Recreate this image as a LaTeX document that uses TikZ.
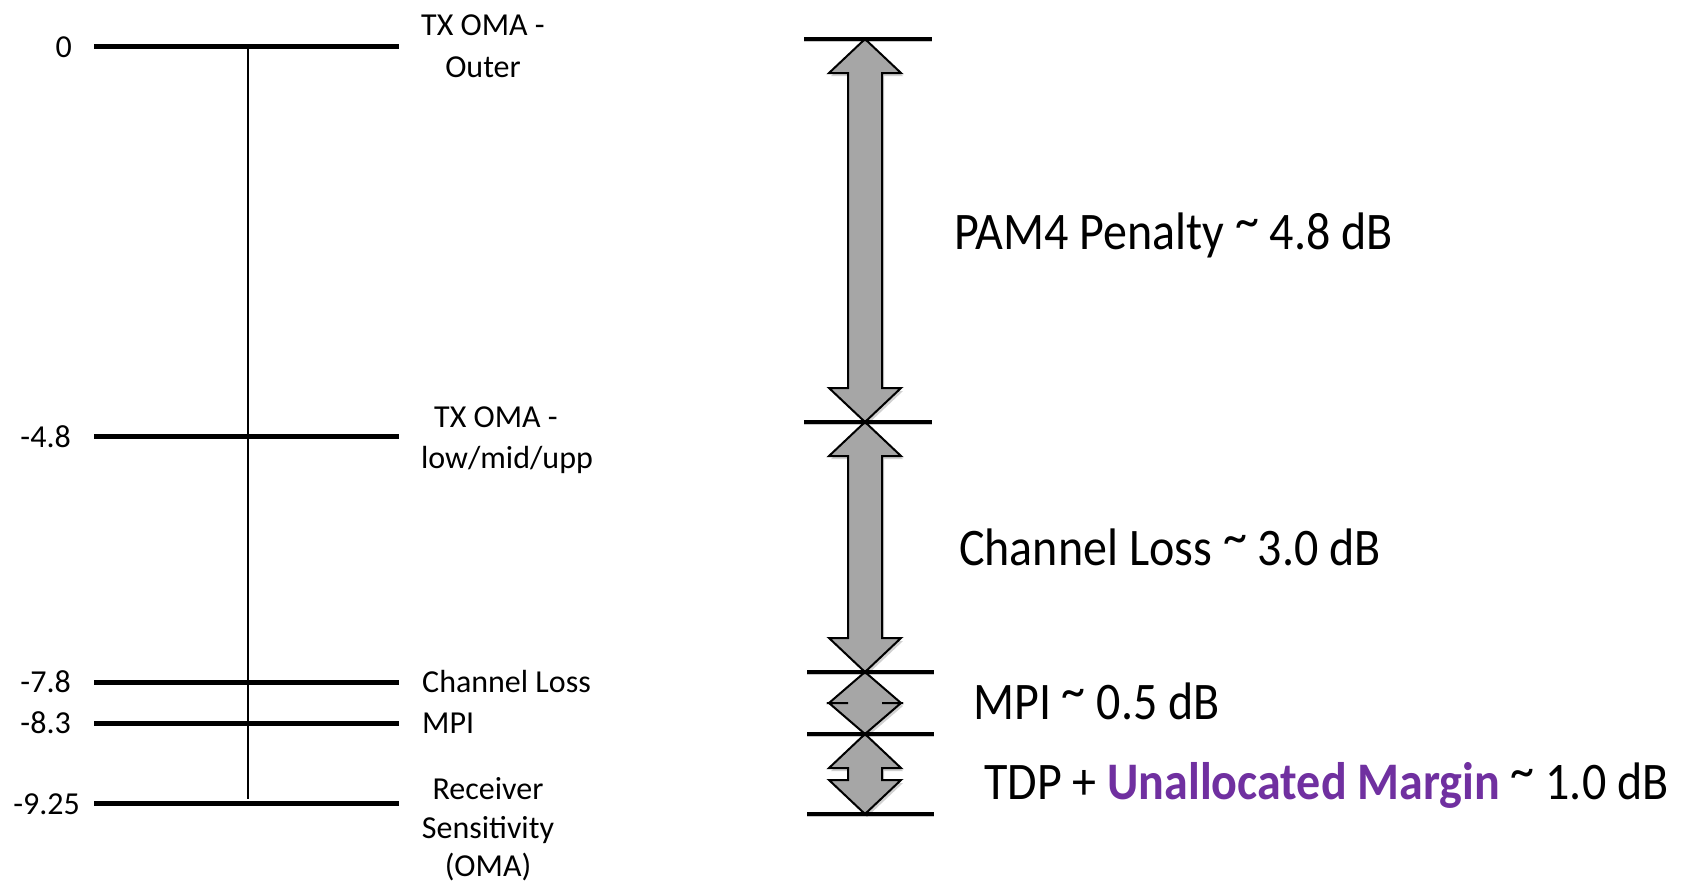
\documentclass[tikz,border=0pt]{standalone}
\usepackage{fontspec}
\setmainfont{Carlito}
\usepackage{graphicx}
\definecolor{arrowgray}{RGB}{166,166,166}
\definecolor{mpurple}{RGB}{112,48,160}
\tikzset{
  level/.style={line width=5pt, black},
  thinline/.style={line width=1.8pt, black},
  bar/.style={line width=4.5pt, black},
  barshadow/.style={line width=5pt, black, opacity=0.22},
  arrowshape/.style={fill=arrowgray, draw=black, line width=2pt, line join=miter},
  arrowshadow/.style={fill=black, opacity=0.18},
  small/.style={font=\fontsize{32}{40}\selectfont, inner sep=0pt},
  big/.style={font=\fontsize{48}{58}\selectfont, inner sep=0pt},
}
\newcommand{\bigtxt}[1]{\scalebox{1}[1.1]{#1}}
\newcommand{\tld}{\raisebox{0.2em}{\textasciitilde}}
\newcommand{\myUpDownArrow}[4]{% name, top, bottom, head
  \pgfmathsetmacro{\ta}{-(#2)}%
  \pgfmathsetmacro{\tb}{-(#2+#4)}%
  \pgfmathsetmacro{\ba}{-(#3)}%
  \pgfmathsetmacro{\bb}{-(#3-#4)}%
  \fill[arrowshadow, shift={(2,-3)}] (865,\ta) -- (901,\tb) -- (882,\tb) -- (882,\bb) -- (901,\bb) -- (865,\ba) -- (829,\bb) -- (848,\bb) -- (848,\tb) -- (829,\tb) -- cycle;
  \draw[arrowshape] (865,\ta) coordinate (#1top) -- (901,\tb) -- (882,\tb) -- (882,\bb) -- (901,\bb) -- (865,\ba) coordinate (#1bot) -- (829,\bb) -- (848,\bb) -- (848,\tb) -- (829,\tb) -- cycle;
}
\begin{document}
\begin{tikzpicture}[x=1pt,y=1pt]
\useasboundingbox (0,0) rectangle (1681,-887);
\fill[white] (0,0) rectangle (1681,-887);

% ---------- left scale ----------
\foreach \n/\y in {a/46, b/436, c/682, d/723, e/803} {
  \coordinate (L\n) at (94,-\y);
  \coordinate (R\n) at (399,-\y);
  \draw[level] (L\n) -- (R\n);
}
\coordinate (vt) at (248,-46);
\coordinate (vb) at (248,-799);
\draw[thinline] (vt) -- (vb);

\node[small, anchor=base east] (n0) at (72,-57) {0};
\node[small, anchor=base east] (n1) at (71,-447) {-4.8};
\node[small, anchor=base east] (n2) at (71,-692) {-7.8};
\node[small, anchor=base east] (n3) at (71,-733) {-8.3};
\node[small, anchor=base east] (n4) at (80,-814) {-9.25};

\node[small, anchor=base] (t1a) at (483,-35) {TX OMA -};
\node[small, anchor=base] (t1b) at (483,-77) {Outer};
\node[small, anchor=base] (t2a) at (496,-427) {TX OMA -};
\node[small, anchor=base] (t2b) at (507,-468) {low/mid/upp};
\node[small, anchor=base west] (t3) at (422,-692) {Channel Loss};
\node[small, anchor=base west] (t4) at (422,-733) {MPI};
\node[small, anchor=base] (t5a) at (488,-799) {Receiver};
\node[small, anchor=base] (t5b) at (488,-838) {Sensitivity};
\node[small, anchor=base] (t5c) at (488,-876) {(OMA)};

% ---------- right arrows ----------
\myUpDownArrow{pa}{39}{422}{34}
\myUpDownArrow{ch}{422}{672}{34}
\myUpDownArrow{mp}{672}{734}{31}
\myUpDownArrow{td}{734}{814}{34}

\foreach \n/\y/\xa/\xb in {1/39/804/932, 2/422/804/932, 3/672/807/934, 4/734/807/934, 5/814/807/934} {
  \coordinate (B\n l) at (\xa,-\y);
  \coordinate (B\n r) at (\xb,-\y);
  \draw[barshadow, shift={(1.5,-3)}] (B\n l) -- (B\n r);
  \draw[bar] (B\n l) -- (B\n r);
}

\node[big, anchor=base west] (lpam) at (954,-249) {\bigtxt{PAM4 Penalty \tld{} 4.8 dB}};
\node[big, anchor=base west] (lch) at (959,-565) {\bigtxt{Channel Loss \tld{} 3.0 dB}};
\node[big, anchor=base west] (lmpi) at (973,-719) {\bigtxt{MPI \tld{} 0.5 dB}};
\node[big, anchor=base west] (ltdp) at (984,-799) {\bigtxt{TDP + \textcolor{mpurple}{\bfseries Unallocated Margin} \tld{} 1.0 dB}};
\end{tikzpicture}
\end{document}
